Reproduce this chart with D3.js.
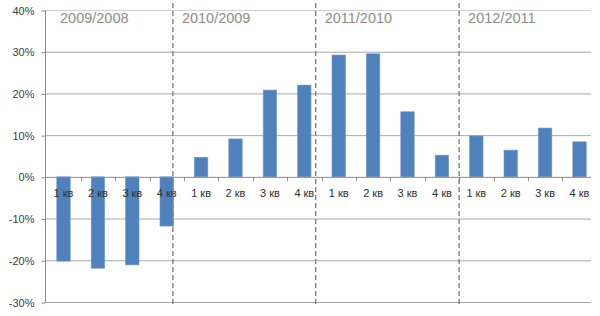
<!DOCTYPE html>
<html>
<head>
<meta charset="utf-8">
<script src="https://cdnjs.cloudflare.com/ajax/libs/d3/7.8.5/d3.min.js"></script>
<style>
  body { margin: 0; background: #fff; }
  svg { display: block; font-family: "Liberation Sans", Arial, sans-serif; }
</style>
</head>
<body>
<svg id="chart" width="600" height="316"></svg>
<script>
// quarters (x categories)
const quarters = ["1 кв", "2 кв", "3 кв", "4 кв", "1 кв", "2 кв", "3 кв", "4 кв",
                  "1 кв", "2 кв", "3 кв", "4 кв", "1 кв", "2 кв", "3 кв", "4 кв"];
// year-on-year change, %
const growth = [-20.2, -21.9, -21.1, -11.8, 4.7, 9.1, 20.8, 22.0,
                29.2, 29.5, 15.6, 5.2, 9.8, 6.4, 11.7, 8.4];
const periods = ["2009/2008", "2010/2009", "2011/2010", "2012/2011"];
// where the dashed dividers sit, in category units
const dividers = [3.68, 7.83, 12.0];
const yTicks = [-30, -20, -10, 0, 10, 20, 30, 40];

const svg = d3.select("#chart");
const plotLeft = 45, plotRight = 591, plotTop = 10, plotBottom = 302;

const y = d3.scaleLinear().domain([-30, 40]).range([plotBottom, plotTop]);
const x = d3.scaleBand()
  .domain(d3.range(quarters.length))
  .range([46.3, 596.7])
  .paddingInner(0.61)
  .paddingOuter(0.305);
const step = x.step();
const xu = d3.scaleLinear().domain([0, quarters.length]).range([46.3, 46.3 + step * quarters.length]);

// gridlines
svg.append("g")
  .selectAll("line")
  .data(yTicks.filter(d => d !== 0))
  .enter().append("line")
  .attr("x1", plotLeft).attr("x2", plotRight)
  .attr("y1", d => y(d) + 0.5).attr("y2", d => y(d) + 0.5)
  .attr("stroke", d => d === 40 ? "#d0d0d0" : "#a8a8a8")
  .attr("stroke-width", 1);

// y axis
const yAxis = svg.append("g")
  .attr("transform", "translate(" + (plotLeft + 0.5) + ",0.5)")
  .call(d3.axisLeft(y).tickValues(yTicks).tickSize(4).tickPadding(7).tickFormat(d => d + "%"));
yAxis.select(".domain").attr("stroke", "#8a8a8a").attr("d", "M0," + y(40) + "V" + y(-30));
yAxis.selectAll(".tick line").attr("stroke", "#8a8a8a");
yAxis.selectAll(".tick text").attr("fill", "#404040").style("font-size", "11px");

// bars
svg.append("g")
  .selectAll("rect")
  .data(growth)
  .enter().append("rect")
  .attr("x", (d, i) => x(i))
  .attr("y", d => y(Math.max(0, d)))
  .attr("width", x.bandwidth())
  .attr("height", d => Math.abs(y(d) - y(0)))
  .attr("fill", "#4f81bd")
  .attr("stroke", "#6f97c9")
  .attr("stroke-width", 0.6);

// zero line with category ticks
svg.append("line")
  .attr("x1", plotLeft).attr("x2", plotRight)
  .attr("y1", y(0) + 0.5).attr("y2", y(0) + 0.5)
  .attr("stroke", "#8a8a8a");
svg.append("g")
  .selectAll("line")
  .data(d3.range(1, quarters.length))
  .enter().append("line")
  .attr("x1", d => Math.round(xu(d)) + 0.5).attr("x2", d => Math.round(xu(d)) + 0.5)
  .attr("y1", y(0)).attr("y2", y(0) + 4)
  .attr("stroke", "#8a8a8a");

// category labels
svg.append("g")
  .selectAll("text")
  .data(quarters)
  .enter().append("text")
  .attr("x", (d, i) => x(i) + x.bandwidth() / 2)
  .attr("y", y(0) + 20)
  .attr("text-anchor", "middle")
  .attr("fill", "#303030")
  .style("font-size", "11px")
  .text(d => d);

// dashed dividers
svg.append("g")
  .selectAll("line")
  .data(dividers)
  .enter().append("line")
  .attr("x1", d => xu(d)).attr("x2", d => xu(d))
  .attr("y1", 3).attr("y2", plotBottom + 4)
  .attr("stroke", "#808080")
  .attr("stroke-width", 1.4)
  .attr("stroke-dasharray", "5,3");

// period labels
const labelX = [plotLeft + 15].concat(dividers.map(d => xu(d) + 9));
svg.append("g")
  .selectAll("text")
  .data(periods)
  .enter().append("text")
  .attr("x", (d, i) => labelX[i])
  .attr("y", 23)
  .attr("fill", "#8c8c8c")
  .style("font-size", "14.5px")
  .text(d => d);
</script>
</body>
</html>
